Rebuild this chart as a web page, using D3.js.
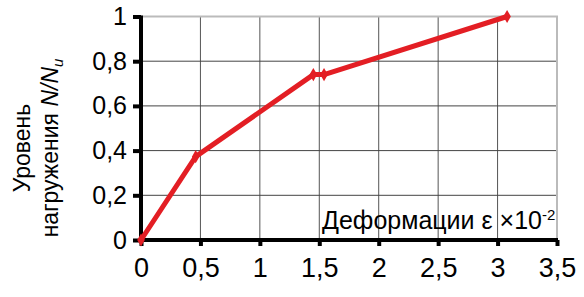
<!DOCTYPE html>
<html>
<head>
<meta charset="utf-8">
<script src="https://cdn.jsdelivr.net/npm/d3@7"></script>
<style>
body { margin: 0; background: #fff; }
text { font-family: "Liberation Sans", Arial, sans-serif; }
</style>
</head>
<body>
<div id="chart"></div>
<script>
var strain = [0, 0.46, 1.45, 1.54, 3.08];
var load = [0, 0.373, 0.74, 0.74, 1.0];
var xTicks = [0, 0.5, 1, 1.5, 2, 2.5, 3, 3.5];
var yTicks = [0, 0.2, 0.4, 0.6, 0.8, 1];

var data = strain.map(function(d, i) { return {x: d, y: load[i]}; });

var width = 584, height = 297;
var plotLeft = 141, plotRight = 557, plotTop = 16.5, plotBottom = 240;

var svg = d3.select("#chart").append("svg")
    .attr("width", width)
    .attr("height", height);

var x = d3.scaleLinear().domain([0, 3.5]).range([plotLeft, plotRight]);
var y = d3.scaleLinear().domain([0, 1]).range([plotBottom, plotTop]);

var fmt = function(d) { return String(d).replace(".", ","); };

// grid
svg.append("g").selectAll("line")
    .data(xTicks.slice(1, -1))
    .enter().append("line")
    .attr("x1", x).attr("x2", x)
    .attr("y1", plotTop).attr("y2", plotBottom)
    .attr("stroke", "#555").attr("stroke-width", 1);

svg.append("g").selectAll("line")
    .data(yTicks.slice(1, -1))
    .enter().append("line")
    .attr("y1", y).attr("y2", y)
    .attr("x1", plotLeft).attr("x2", plotRight)
    .attr("stroke", "#444").attr("stroke-width", 1);

// top/right border
svg.append("path")
    .attr("d", "M" + plotLeft + "," + y(1) + "H" + x(3.5) + "V" + plotBottom)
    .attr("fill", "none")
    .attr("stroke", "#bbb")
    .attr("stroke-width", 2);

// x label inside plot
var xl = svg.append("text")
    .attr("x", 322)
    .attr("y", 229)
    .attr("font-size", 25)
    .attr("fill", "#000");
xl.append("tspan").text("Деформации ε ×10");
xl.append("tspan").attr("dy", -9).attr("font-size", 15).text("-2");

// axes
var xAxis = svg.append("g")
    .attr("transform", "translate(0," + plotBottom + ")")
    .call(d3.axisBottom(x).tickValues(xTicks).tickSize(6).tickPadding(12).tickFormat(fmt));
xAxis.select(".domain").attr("stroke", "#000").attr("stroke-width", 4)
    .attr("d", "M" + (plotLeft - 2) + ",0H" + (plotRight + 1));
xAxis.selectAll(".tick line").attr("stroke", "#000").attr("stroke-width", 4);
xAxis.selectAll(".tick text").attr("font-size", 27).attr("fill", "#000")
    .attr("font-family", "Liberation Sans, Arial, sans-serif");

var yAxis = svg.append("g")
    .attr("transform", "translate(" + plotLeft + ",0)")
    .call(d3.axisLeft(y).tickValues(yTicks).tickSize(8).tickPadding(6).tickFormat(fmt));
yAxis.select(".domain").attr("stroke", "#000").attr("stroke-width", 4)
    .attr("d", "M0," + (plotTop - 1) + "V" + (plotBottom + 2));
yAxis.selectAll(".tick line").attr("stroke", "#000").attr("stroke-width", 4);
yAxis.selectAll(".tick text").attr("font-size", 25).attr("fill", "#000")
    .attr("font-family", "Liberation Sans, Arial, sans-serif");

// y title
var yt = svg.append("g")
    .attr("transform", "translate(0,148) rotate(-90)");
yt.append("text")
    .attr("x", 0).attr("y", 30)
    .attr("text-anchor", "middle")
    .attr("font-size", 23)
    .text("Уровень");
var yt2 = yt.append("text")
    .attr("x", 0).attr("y", 58)
    .attr("text-anchor", "middle")
    .attr("font-size", 23);
yt2.append("tspan").text("нагружения ");
yt2.append("tspan").attr("font-style", "italic").text("N/N");
yt2.append("tspan").attr("font-style", "italic").attr("font-size", 15).attr("dy", 5).text("u");

// series
var red = "#e31e24";
svg.append("path")
    .datum(data)
    .attr("fill", "none")
    .attr("stroke", red)
    .attr("stroke-width", 5)
    .attr("stroke-linejoin", "round")
    .attr("d", d3.line().x(function(d) { return x(d.x); }).y(function(d) { return y(d.y); }));

svg.append("g").selectAll("path")
    .data(data)
    .enter().append("path")
    .attr("transform", function(d) { return "translate(" + x(d.x) + "," + y(d.y) + ")"; })
    .attr("d", d3.symbol().type(d3.symbolDiamond).size(50))
    .attr("fill", red);
</script>
</body>
</html>
